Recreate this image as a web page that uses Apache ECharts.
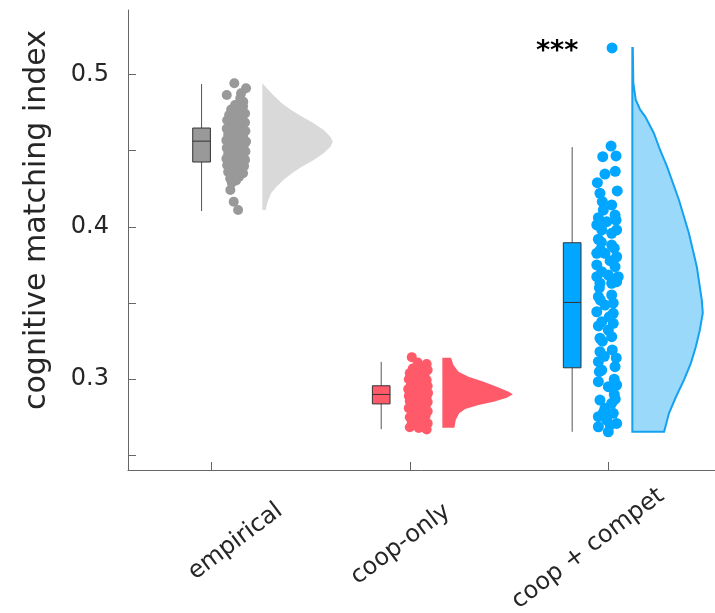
<!DOCTYPE html>
<html>
<head>
<meta charset="utf-8">
<script src="https://cdn.jsdelivr.net/npm/echarts@6/dist/echarts.min.js"></script>
<style>
html,body{margin:0;padding:0;background:#fff;}
#chart{width:715px;height:613px;}
</style>
</head>
<body>
<div id="chart"></div>
<script>
// ---------- data ----------
const categories = ['empirical', 'coop-only', 'coop + compet'];
const yTickValues = [0.25, 0.3, 0.35, 0.4, 0.45, 0.5];
const yLabelValues = [0.3, 0.4, 0.5];
const significance = '***';

// box stats: [lower whisker, Q1, median, Q3, upper whisker]
const empiricalBox = [0.4104, 0.4426, 0.4563, 0.4649, 0.4938];
const coopOnlyBox = [0.2672, 0.2838, 0.2900, 0.2957, 0.3114];
const coopCompetBox = [0.2655, 0.3075, 0.3504, 0.3896, 0.4524];

// scatter points: [jitter offset from category, value]
const empiricalPoints = [
  [0.116,0.4943],[0.078,0.4866],[0.175,0.4910],[0.150,0.4877],[0.146,0.4844],[0.161,0.4822],
  [0.120,0.4800],[0.160,0.4790],[0.100,0.4770],[0.140,0.4760],[0.170,0.4745],
  [0.090,0.4735],[0.125,0.4725],[0.155,0.4710],[0.080,0.4700],[0.110,0.4695],
  [0.170,0.4685],[0.135,0.4675],[0.095,0.4665],[0.150,0.4655],[0.078,0.4645],
  [0.120,0.4640],[0.172,0.4630],[0.105,0.4620],[0.140,0.4612],[0.085,0.4605],
  [0.160,0.4598],[0.125,0.4590],[0.095,0.4582],[0.150,0.4575],[0.076,0.4568],
  [0.175,0.4560],[0.112,0.4555],[0.138,0.4548],[0.088,0.4540],[0.163,0.4532],
  [0.120,0.4525],[0.078,0.4518],[0.148,0.4510],[0.100,0.4502],[0.172,0.4495],
  [0.130,0.4488],[0.085,0.4480],[0.158,0.4472],[0.110,0.4465],[0.140,0.4455],
  [0.076,0.4448],[0.170,0.4440],[0.120,0.4432],[0.095,0.4422],[0.150,0.4415],
  [0.080,0.4405],[0.165,0.4398],[0.130,0.4390],[0.100,0.4380],[0.145,0.4370],
  [0.085,0.4360],[0.160,0.4352],[0.115,0.4342],[0.140,0.4330],[0.095,0.4318],
  [0.125,0.4305],[0.103,0.4290],[0.096,0.4242],[0.113,0.4165],[0.135,0.4111]
];
const coopOnlyPoints = [
  [0.010,0.3145],[0.085,0.3100],[0.040,0.3110],[0.065,0.3080],[0.015,0.3070],
  [0.090,0.3060],[0.050,0.3050],[0.000,0.3040],[0.075,0.3030],[0.030,0.3020],
  [0.060,0.3010],[-0.005,0.3000],[0.085,0.2995],[0.020,0.2985],[0.045,0.2980],
  [0.070,0.2970],[0.005,0.2960],[0.090,0.2955],[0.035,0.2950],[0.060,0.2945],
  [-0.008,0.2935],[0.080,0.2930],[0.020,0.2925],[0.050,0.2920],[0.092,0.2910],
  [0.005,0.2905],[0.070,0.2900],[0.035,0.2895],[-0.005,0.2890],[0.085,0.2885],
  [0.055,0.2880],[0.015,0.2875],[0.075,0.2870],[0.040,0.2865],[0.000,0.2855],
  [0.090,0.2850],[0.025,0.2845],[0.060,0.2840],[0.010,0.2830],[0.080,0.2825],
  [0.045,0.2820],[-0.005,0.2810],[0.070,0.2805],[0.030,0.2795],[0.090,0.2790],
  [0.010,0.2780],[0.055,0.2775],[0.080,0.2760],[0.000,0.2750],[0.040,0.2745],
  [0.065,0.2730],[0.010,0.2720],[0.090,0.2710],[0.030,0.2705],[0.060,0.2690],
  [0.000,0.2685],[0.085,0.2670],[0.045,0.2680]
];
const coopCompetPoints = [
  [0.019,0.5175],[0.014,0.4531],[-0.028,0.4461],[0.039,0.4466],[-0.017,0.4347],
  [0.035,0.4365],[-0.055,0.4290],[0.045,0.4236],[-0.042,0.4221],[-0.030,0.4166],
  [0.017,0.4144],[-0.025,0.4111],[0.034,0.4078],[-0.058,0.4013],[-0.008,0.4034],
  [0.039,0.4045],[-0.033,0.3980],[0.042,0.3980],[0.017,0.3958],[-0.050,0.3919],
  [0.017,0.3881],[-0.058,0.3827],[-0.017,0.3827],[0.042,0.3804],[0.009,0.3778],
  [-0.058,0.3750],[0.034,0.3739],[-0.033,0.3706],[-0.058,0.3673],[0.000,0.3684],
  [0.050,0.3673],[-0.042,0.3630],[0.017,0.3630],[0.042,0.3640],[-0.050,0.3542],
  [0.017,0.3553],[-0.017,0.3487],[-0.058,0.3443],[0.025,0.3433],[-0.033,0.3378],
  [0.025,0.3367],[0.000,0.3323],[-0.042,0.3269],[0.017,0.3279],[-0.042,0.3181],
  [0.020,0.3192],[-0.050,0.3115],[0.034,0.3082],[-0.033,0.3060],[-0.050,0.2984],
  [0.000,0.2951],[0.042,0.2962],[-0.042,0.2863],[0.017,0.2842],[-0.017,0.2809],
  [-0.050,0.2754],[0.025,0.2776],[-0.008,0.2732],[-0.050,0.2688],[0.000,0.2655],
  [0.042,0.2710],[-0.045,0.3600],[-0.040,0.3850],[-0.050,0.3350],[0.030,0.2900],
  [-0.040,0.3520],[0.025,0.3500],[-0.030,0.3250],[0.030,0.3000],[-0.045,0.3050],
  [0.035,0.2870],[-0.025,0.2780],[0.010,0.2700],[-0.035,0.3900],[0.030,0.3860],
  [-0.050,0.4060],[0.005,0.3410],[-0.020,0.3150],[0.040,0.3140]
];

// half-violin density profiles: value levels and relative density (1 = widest)
const empiricalViolinY = [0.4943,0.4899,0.4855,0.4812,0.4768,0.4724,0.4680,0.4636,0.4592,0.4559,0.4527,0.4483,0.4439,0.4395,0.4352,0.4308,0.4264,0.4221,0.4165,0.4111];
const empiricalViolinD = [0.00,0.086,0.18,0.276,0.41,0.56,0.73,0.87,0.967,1.0,0.967,0.87,0.73,0.56,0.42,0.30,0.20,0.124,0.076,0.047];
const coopOnlyViolinY = [0.3141,0.3093,0.3049,0.3016,0.2984,0.2951,0.2918,0.2901,0.2879,0.2852,0.2831,0.2804,0.2776,0.2732,0.2682];
const coopOnlyViolinD = [0.124,0.157,0.229,0.371,0.586,0.771,0.943,1.0,0.914,0.729,0.514,0.324,0.239,0.190,0.171];
const coopCompetViolinY = [0.5175,0.4943,0.4833,0.4768,0.4724,0.4615,0.4505,0.4395,0.4177,0.3958,0.3739,0.3519,0.3435,0.3323,0.3213,0.3106,0.2994,0.2885,0.2778,0.2655];
const coopCompetViolinD = [0.007,0.014,0.049,0.113,0.183,0.306,0.394,0.493,0.662,0.803,0.915,0.986,1.0,0.958,0.901,0.831,0.732,0.62,0.521,0.451];

// ---------- layout / style ----------
const catPos = [1, 2, 3];
const boxPos = [0.951, 1.856, 2.818];
const boxWidth = 0.089;
const violinBase = [1.257, 2.164, 3.121];
const violinMaxW = 0.355;
const labelPos = [[1.122, 0.1934], [1.954, 0.1915], [2.898, 0.1888]];
const sigPos = [2.742, 0.5148];

const dotColors = ['#999999', '#ff5a69', '#00a6ff'];
const dotSizes = [10, 10, 11];
const boxColors = ['#999999', '#ff5a69', '#00a6ff'];
const violinFill = ['#d9d9d9', '#ff5a69', '#9bd9fb'];
const violinStroke = [null, null, '#14a2f0'];
const textColor = '#262626';
const axisColor = '#666666';
const FONT = 'DejaVu Sans';

const boxes = [empiricalBox, coopOnlyBox, coopCompetBox];
const pointSets = [empiricalPoints, coopOnlyPoints, coopCompetPoints];
const violins = [
  [empiricalViolinY, empiricalViolinD],
  [coopOnlyViolinY, coopOnlyViolinD],
  [coopCompetViolinY, coopCompetViolinD]
];

const chart = echarts.init(document.getElementById('chart'), null, {renderer: 'canvas'});

const scatterSeries = pointSets.map((pts, i) => ({
  type: 'scatter',
  name: categories[i],
  data: pts.map(p => [catPos[i] + p[0], p[1]]),
  symbol: 'circle',
  symbolSize: dotSizes[i],
  itemStyle: {color: dotColors[i], opacity: 1},
  z: 3,
  silent: true
}));

const option = {
  animation: false,
  backgroundColor: '#ffffff',
  grid: {left: 128, right: 0, top: 10, bottom: 143, containLabel: false, outerBoundsMode: 'none'},
  xAxis: {
    type: 'value', min: 0.5804, max: 3.5375,
    axisLine: {show: true, onZero: false, lineStyle: {color: axisColor, width: 1}},
    axisTick: {show: true, inside: true, length: 8, customValues: catPos, lineStyle: {color: axisColor, width: 1}},
    axisLabel: {show: false},
    splitLine: {show: false}
  },
  yAxis: {
    type: 'value', min: 0.2404, max: 0.5424,
    axisLine: {show: true, onZero: false, lineStyle: {color: axisColor, width: 1}},
    axisTick: {show: true, inside: true, length: 8, customValues: yTickValues, lineStyle: {color: axisColor, width: 1}},
    axisLabel: {
      show: true, customValues: yLabelValues, margin: 19,
      formatter: v => Number(v).toFixed(1),
      fontSize: 24, color: textColor, fontFamily: FONT
    },
    splitLine: {show: false},
    name: 'cognitive matching index',
    nameLocation: 'middle',
    nameGap: 76,
    nameTextStyle: {fontSize: 30, color: textColor, fontFamily: FONT, padding: [0, 0, 0, 40]}
  },
  series: [
    {
      type: 'custom',
      name: 'violins',
      clip: false,
      silent: true,
      z: 1,
      data: violinBase.map((b, i) => [b, violins[i][0][0], i]),
      renderItem: (params, api) => {
        const i = params.dataIndex;
        const base = violinBase[i];
        const ys = violins[i][0], ds = violins[i][1];
        const pts = [api.coord([base, ys[0]])];
        for (let k = 0; k < ys.length; k++) {
          pts.push(api.coord([base + ds[k] * violinMaxW, ys[k]]));
        }
        pts.push(api.coord([base, ys[ys.length - 1]]));
        return {
          type: 'polygon',
          shape: {points: pts},
          style: {
            fill: violinFill[i],
            stroke: violinStroke[i] || null,
            lineWidth: violinStroke[i] ? 2 : 0
          }
        };
      }
    },
    {
      type: 'custom',
      name: 'boxes',
      clip: false,
      silent: true,
      z: 2,
      data: boxes.map((b, i) => [boxPos[i], b[0], b[1], b[2], b[3], b[4]]),
      renderItem: (params, api) => {
        const i = params.dataIndex;
        const x = api.value(0);
        const pMin = api.coord([x, api.value(1)]);
        const pQ1 = api.coord([x, api.value(2)]);
        const pMed = api.coord([x, api.value(3)]);
        const pQ3 = api.coord([x, api.value(4)]);
        const pMax = api.coord([x, api.value(5)]);
        const left = api.coord([x - boxWidth / 2, api.value(3)])[0];
        const right = api.coord([x + boxWidth / 2, api.value(3)])[0];
        return {
          type: 'group',
          children: [
            {type: 'line', shape: {x1: pMin[0], y1: pMin[1], x2: pMax[0], y2: pMax[1]}, style: {stroke: '#555555', lineWidth: 1}},
            {type: 'rect', shape: {x: left, y: pQ3[1], width: right - left, height: pQ1[1] - pQ3[1]}, style: {fill: boxColors[i], stroke: '#333333', lineWidth: 1}},
            {type: 'line', shape: {x1: left, y1: pMed[1], x2: right, y2: pMed[1]}, style: {stroke: '#333333', lineWidth: 1}}
          ]
        };
      }
    },
    ...scatterSeries,
    {
      type: 'custom',
      name: 'categoryLabels',
      clip: false,
      silent: true,
      z: 5,
      data: labelPos.map((p, i) => [p[0], p[1], i]),
      renderItem: (params, api) => {
        const i = params.dataIndex;
        const p = api.coord([api.value(0), api.value(1)]);
        return {
          type: 'text',
          x: p[0], y: p[1],
          rotation: 37 * Math.PI / 180,
          style: {
            text: categories[i], fill: textColor,
            fontSize: 24, fontFamily: FONT,
            align: 'center', verticalAlign: 'middle'
          }
        };
      }
    },
    {
      type: 'custom',
      name: 'significance',
      clip: false,
      silent: true,
      z: 5,
      data: [sigPos],
      renderItem: (params, api) => {
        const p = api.coord([api.value(0), api.value(1)]);
        return {
          type: 'text',
          x: p[0], y: p[1],
          style: {
            text: significance, fill: '#000000',
            fontSize: 27, fontWeight: 'bold', fontFamily: FONT,
            align: 'center', verticalAlign: 'middle'
          }
        };
      }
    }
  ]
};
chart.setOption(option);
</script>
</body>
</html>
